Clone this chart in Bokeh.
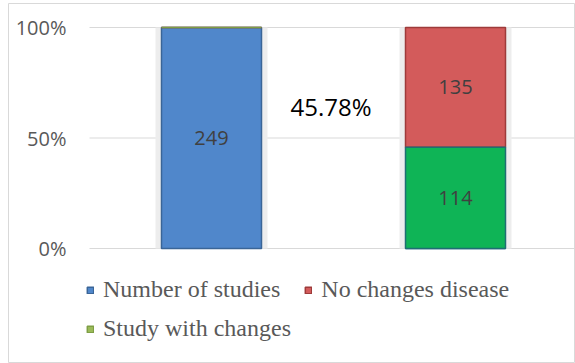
from bokeh.plotting import figure
from bokeh.models import ColumnDataSource, Range1d, LinearAxis, FixedTicker, Legend, LegendItem
from bokeh.core.properties import value
from bokeh.embed import file_html
from bokeh.resources import INLINE

# ---- data ----
bar_positions = [0.5, 1.5]
number_of_studies = [249, 0]
study_with_changes = [0, 114]
no_changes_disease = [0, 135]
series_names = ["Number of studies", "No changes disease", "Study with changes"]
y_ticks = [0, 0.5, 1.0]
y_tick_labels = ["0%", "50%", "100%"]

# ---- derived stacking (100% stacked) ----
totals = [a + b + c for a, b, c in zip(number_of_studies, study_with_changes, no_changes_disease)]
blue_top = [a / t for a, t in zip(number_of_studies, totals)]
green_top = [bt + s / t for bt, s, t in zip(blue_top, study_with_changes, totals)]
red_top = [1.0 for _ in totals]
zeros = [0.0 for _ in totals]

src = ColumnDataSource(dict(
    x=bar_positions,
    zero=zeros,
    blue_top=blue_top,
    green_top=green_top,
    red_top=red_top,
    green_fill=["#9BBB59", "#0FB456"],
    green_line=["#7E9E45", "#1F6E73"],
))

p = figure(width=575, height=363, output_backend="svg", toolbar_location=None,
           x_range=Range1d(-81 / 244, 486 / 244), y_range=Range1d(-114 / 221, 1 + 24 / 221),
           min_border_left=8, min_border_right=0, min_border_top=3, min_border_bottom=1,
           x_axis_location=None, y_axis_location=None)
p.xgrid.visible = False
p.ygrid.visible = False
p.outline_line_color = "#D9D9D9"
p.outline_line_width = 1
p.background_fill_color = "white"
p.border_fill_color = "white"

# gridlines
p.segment(x0=[0] * len(y_ticks), x1=[486 / 244] * len(y_ticks), y0=y_ticks, y1=y_ticks,
          line_color="#D9D9D9", line_width=1)

# y axis
yaxis = LinearAxis(ticker=FixedTicker(ticks=y_ticks),
                   major_label_overrides={t: l for t, l in zip(y_ticks, y_tick_labels)})
yaxis.axis_line_color = None
yaxis.major_tick_line_color = None
yaxis.minor_tick_line_color = None
yaxis.major_tick_out = 0
yaxis.major_tick_in = 0
yaxis.major_label_standoff = -58
yaxis.major_label_text_font = "Open Sans"
yaxis.major_label_text_font_size = "20px"
yaxis.major_label_text_color = "#595959"
p.add_layout(yaxis, "left")

bw = 100 / 244
# soft shadow
p.vbar(x="x", bottom="zero", top="red_top", width=bw + 12 / 244, source=src,
       fill_color="#EDEDED", line_color=None)

r_blue = p.vbar(x="x", bottom="zero", top="blue_top", width=bw, source=src,
                fill_color="#5087CB", line_color="#3A6597", line_width=1.5)
r_red = p.vbar(x="x", bottom="green_top", top="red_top", width=bw, source=src,
               fill_color="#D35B5B", line_color="#9E3B3A", line_width=1.5)
r_green = p.vbar(x="x", bottom="blue_top", top="green_top", width=bw, source=src,
                 fill_color="green_fill", line_color="green_line", line_width=1.5)

# data labels
lab_x, lab_y, lab_t = [], [], []
for i, x in enumerate(bar_positions):
    segs = [(number_of_studies[i], 0.0, blue_top[i]),
            (study_with_changes[i], blue_top[i], green_top[i]),
            (no_changes_disease[i], green_top[i], red_top[i])]
    for v, b, t in segs:
        if v > 0:
            lab_x.append(x)
            lab_y.append((b + t) / 2)
            lab_t.append(str(v))
p.text(x=lab_x, y=lab_y, text=lab_t, text_font=value("Open Sans"), text_font_size="20px",
       text_color="#404040", text_align="center", text_baseline="middle")

# percentage annotation
pct = study_with_changes[1] / totals[1]
p.text(x=[0.99], y=[0.643], text=[f"{pct:.2%}"], text_font=value("Open Sans"),
       text_font_size="24px", text_color="#000000", text_align="center", text_baseline="middle")

def mk_legend(items, loc, spacing):
    lg = Legend(items=items, location=loc, orientation="horizontal",
                glyph_width=8, glyph_height=8, label_standoff=9, spacing=spacing,
                padding=0, margin=0, border_line_color=None, background_fill_alpha=0)
    lg.label_text_font = "Liberation Serif"
    lg.label_text_font_size = "24px"
    lg.label_text_color = "#595959"
    return lg

lg1 = mk_legend([LegendItem(label=series_names[0], renderers=[r_blue], index=0),
                 LegendItem(label=series_names[1], renderers=[r_red], index=0)], (78, 59), 24)
lg2 = mk_legend([LegendItem(label=series_names[2], renderers=[r_green], index=0)], (78, 20), 24)
p.add_layout(lg1, "center")
p.add_layout(lg2, "center")

open("out.html", "w").write(file_html(p, INLINE))
